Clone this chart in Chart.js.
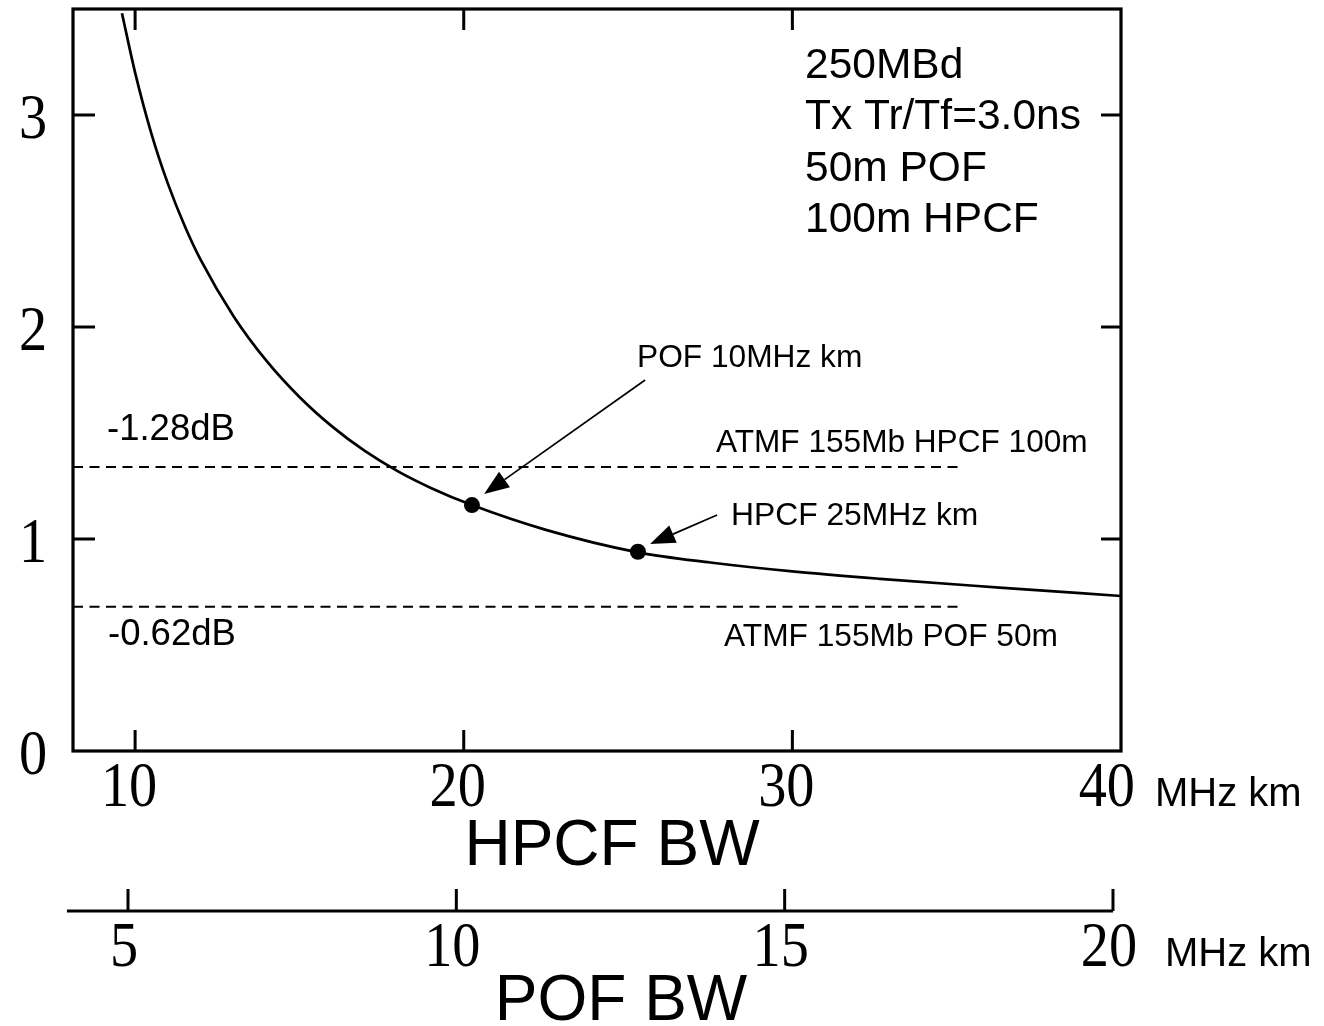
<!DOCTYPE html>
<html>
<head>
<meta charset="utf-8">
<script src="https://cdn.jsdelivr.net/npm/chart.js@4/dist/chart.umd.min.js"></script>
<style>
  html, body { margin: 0; padding: 0; background: #fff; }
  #wrap { width: 1324px; height: 1026px; }
</style>
</head>
<body>
<div id="wrap"><canvas id="c" width="1324" height="1026"></canvas></div>
<script>
// ---- data ----
const hpcfBW   = [9.6, 10.0, 10.5, 11.0, 11.5, 12.0, 13.0, 14.0, 15.0, 16.0, 17.0, 18.0, 19.0, 20.25, 22.5, 25.3, 27.5, 30.0, 32.67, 36.3, 40.0];
const penalty  = [3.48, 3.20, 2.91, 2.675, 2.48, 2.315, 2.05, 1.84, 1.67, 1.53, 1.414, 1.319, 1.241, 1.16, 1.043, 0.937, 0.889, 0.847, 0.812, 0.771, 0.731];
const markerX  = [20.25, 25.3];
const markerY  = [1.16, 0.94];
const limitLevels = [1.34, 0.68];          // ATMF HPCF 100m, ATMF POF 50m
const limitEnds   = [35.19, 35.04];
const hpcfTicks = [10, 20, 30, 40];
const pofTicks  = [5, 10, 15, 20];
const yTicks    = [0, 1, 2, 3];
const xRange  = [8.11, 40];
const x2Range = [4.1625, 20.122];
const yRange  = [0, 3.5];

const curve = hpcfBW.map((x, i) => ({ x, y: penalty[i] }));
const markers = markerX.map((x, i) => ({ x, y: markerY[i] }));
const limitSets = limitLevels.map((lv, i) => [{ x: xRange[0], y: lv }, { x: limitEnds[i], y: lv }]);

const SERIF = '"Liberation Serif", "DejaVu Serif", serif';
const SANS = '"Liberation Sans", Arial, sans-serif';

function serifText(ctx, txt, cx, baseline, size, align) {
  ctx.save();
  ctx.font = size + 'px ' + SERIF;
  ctx.textBaseline = 'alphabetic';
  ctx.textAlign = align || 'center';
  ctx.translate(cx, baseline);
  ctx.scale(0.88, 1);
  ctx.fillText(txt, 0, 0);
  ctx.restore();
}
function sansText(ctx, txt, x, baseline, size, align) {
  ctx.save();
  ctx.font = size + 'px ' + SANS;
  ctx.textBaseline = 'alphabetic';
  ctx.textAlign = align || 'left';
  ctx.fillText(txt, x, baseline);
  ctx.restore();
}
function arrow(ctx, x1, y1, x2, y2) {
  const ang = Math.atan2(y2 - y1, x2 - x1);
  const hl = 25, hw = 9.5;
  const bx = x2 - hl * Math.cos(ang), by = y2 - hl * Math.sin(ang);
  ctx.beginPath();
  ctx.moveTo(x1, y1); ctx.lineTo(bx, by);
  ctx.lineWidth = 1.7; ctx.stroke();
  ctx.beginPath();
  ctx.moveTo(x2, y2);
  ctx.lineTo(bx + hw * Math.sin(ang), by - hw * Math.cos(ang));
  ctx.lineTo(bx - hw * Math.sin(ang), by + hw * Math.cos(ang));
  ctx.closePath(); ctx.fill();
}

const decor = {
  id: 'decor',
  afterDraw(chart) {
    const ctx = chart.ctx;
    const xs = chart.scales.x, ys = chart.scales.y, x2 = chart.scales.x2;
    const a = chart.chartArea;
    ctx.save();
    ctx.strokeStyle = '#000'; ctx.fillStyle = '#000';
    // frame
    ctx.lineWidth = 3.2;
    ctx.strokeRect(a.left, a.top, a.right - a.left, a.bottom - a.top);
    // inward ticks
    ctx.lineWidth = 3;
    hpcfTicks.forEach(v => {
      if (v >= xRange[1]) return;
      const px = xs.getPixelForValue(v);
      ctx.beginPath();
      ctx.moveTo(px, a.bottom); ctx.lineTo(px, a.bottom - 21);
      ctx.moveTo(px, a.top); ctx.lineTo(px, a.top + 21);
      ctx.stroke();
    });
    yTicks.forEach(v => {
      if (v <= yRange[0]) return;
      const py = ys.getPixelForValue(v);
      ctx.beginPath();
      ctx.moveTo(a.left, py); ctx.lineTo(a.left + 22, py);
      ctx.moveTo(a.right, py); ctx.lineTo(a.right - 20, py);
      ctx.stroke();
    });
    // y labels
    yTicks.forEach(v => {
      const py = ys.getPixelForValue(v);
      serifText(ctx, String(v), 33, py + 23, 64);
    });
    // HPCF labels
    hpcfTicks.forEach(v => {
      const px = xs.getPixelForValue(v);
      if (v >= xRange[1]) serifText(ctx, String(v), px + 14, 806, 64, 'right');
      else serifText(ctx, String(v), px - 6, 806, 64);
    });
    sansText(ctx, 'MHz km', 1155, 806, 40);
    sansText(ctx, 'HPCF BW', 612, 865, 64, 'center');

    // POF BW secondary axis
    const axY = 911;
    ctx.lineWidth = 3;
    ctx.beginPath();
    ctx.moveTo(x2.getPixelForValue(4.07), axY);
    ctx.lineTo(x2.getPixelForValue(pofTicks[pofTicks.length - 1]), axY);
    ctx.stroke();
    pofTicks.forEach(v => {
      const px = x2.getPixelForValue(v);
      ctx.beginPath(); ctx.moveTo(px, axY); ctx.lineTo(px, axY - 22); ctx.stroke();
      serifText(ctx, String(v), px - 4, 966, 64);
    });
    sansText(ctx, 'MHz km', 1165, 966, 40);
    sansText(ctx, 'POF BW', 621, 1020, 64, 'center');

    // annotation text
    const lines = ['250MBd', 'Tx Tr/Tf=3.0ns', '50m POF', '100m HPCF'];
    lines.forEach((t, i) => sansText(ctx, t, 805, 78 + i * 51.3, 42.5));
    sansText(ctx, 'POF 10MHz km', 637, 367, 31.7);
    sansText(ctx, 'ATMF 155Mb HPCF 100m', 716, 452, 31.6);
    sansText(ctx, 'HPCF 25MHz km', 731, 525, 31.8);
    sansText(ctx, 'ATMF 155Mb POF 50m', 724, 646, 31.7);
    sansText(ctx, '-1.28dB', 107, 440, 36.5);
    sansText(ctx, '-0.62dB', 108, 645, 36.5);

    // arrows (data coordinates)
    arrow(ctx, xs.getPixelForValue(25.52), ys.getPixelForValue(1.75),
               xs.getPixelForValue(20.62), ys.getPixelForValue(1.212));
    arrow(ctx, xs.getPixelForValue(27.71), ys.getPixelForValue(1.113),
               xs.getPixelForValue(25.67), ys.getPixelForValue(0.976));
    ctx.restore();
  }
};

new Chart(document.getElementById('c'), {
  type: 'scatter',
  data: {
    datasets: [
      { data: curve, showLine: true, borderColor: '#000', borderWidth: 2.7, pointRadius: 0,
        cubicInterpolationMode: 'monotone', fill: false },
      { data: limitSets[0], showLine: true, borderColor: '#000', borderWidth: 2, borderDash: [10, 6.5], pointRadius: 0 },
      { data: limitSets[1], showLine: true, borderColor: '#000', borderWidth: 2, borderDash: [10, 6.5], pointRadius: 0 },
      { data: markers, showLine: false, pointRadius: 8, pointBackgroundColor: '#000', pointBorderColor: '#000', pointBorderWidth: 0 }
    ]
  },
  options: {
    responsive: false,
    animation: false,
    events: [],
    layout: { padding: { left: 73, top: 9, right: 203, bottom: 275 } },
    plugins: { legend: { display: false }, tooltip: { enabled: false } },
    scales: {
      x: { type: 'linear', min: xRange[0], max: xRange[1], display: false },
      x2: { type: 'linear', axis: 'x', min: x2Range[0], max: x2Range[1], display: false },
      y: { type: 'linear', min: yRange[0], max: yRange[1], display: false }
    }
  },
  plugins: [decor]
});
</script>
</body>
</html>
